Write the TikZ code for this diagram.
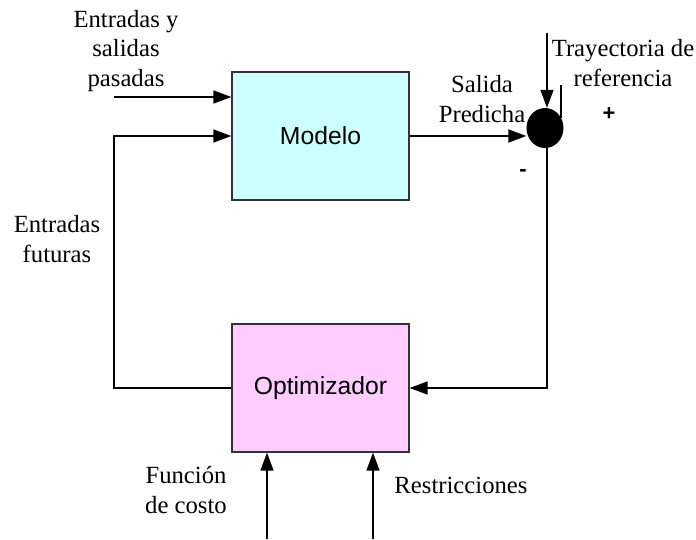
\documentclass[tikz,border=0pt]{standalone}
\usepackage{fontspec}
\setmainfont{Liberation Serif}
\setsansfont{Liberation Sans}
\usetikzlibrary{arrows.meta,shapes.geometric}
\definecolor{modelfill}{HTML}{CCFFFF}
\definecolor{optfill}{HTML}{FFCCFF}
\begin{document}
\begin{tikzpicture}[x=1pt,y=-1pt,
  blk/.style={draw=black!80,line width=1.2pt,minimum width=177pt,minimum height=128pt,inner sep=0pt,font=\sffamily\fontsize{24.7}{29}\selectfont},
  lbl/.style={align=center,font=\fontsize{24.7}{29.5}\selectfont,inner sep=0pt},
  sgn/.style={inner sep=0pt,font=\sffamily\bfseries\fontsize{22}{26}\selectfont},
  conn/.style={line width=1.5pt},
  arr/.style={conn,-{Triangle[length=18pt,width=13pt]}}]
\useasboundingbox (0,0) rectangle (696,539);
\node[blk,fill=modelfill] (modelo) at (320.5,136) {Modelo};
\node[blk,fill=optfill] (opt) at (320.5,388) {Optimizador};
\node[ellipse,fill=black,minimum width=37pt,minimum height=40pt,inner sep=0pt] (sum) at (545,128) {};
% labels
\node[lbl] (lpas) at (126,51) {Entradas y\\salidas\\pasadas};
\node[lbl] (lfut) at (57,239) {Entradas\\futuras};
\node[lbl] (lsal) at (482,99) {Salida\\Predicha};
\node[lbl] (ltray) at (623,63) {Trayectoria de\\referencia};
\node[sgn] (lplus) at (609,114) {+};
\node[sgn] (lminus) at (523,173) {-};
\node[lbl] (lfun) at (186,490) {Función\\de costo};
\node[lbl] (lres) at (461,485) {Restricciones};
% coordinates
\coordinate (inpas) at (114,97);
\coordinate (reftop) at (547,33);
\coordinate (tick1) at (561,85);
\coordinate (tick2) at (561,118);
\coordinate (fbl) at (114,388);
\coordinate (fbtl) at (114,136);
\coordinate (fbr) at (547,388);
\coordinate (b1) at (267,539);
\coordinate (b2) at (373,539);
% connectors
\draw[arr] (inpas) -- (inpas -| modelo.west);
\draw[arr] (opt.west) -- (fbl) -- (fbtl) -- (modelo.west);
\draw[arr] (modelo.east) -- (modelo.east -| sum.west);
\draw[arr] (reftop) -- (reftop |- sum.north);
\draw[conn] (tick1) -- (tick2);
\draw[arr] (sum.south -| fbr) -- (fbr) -- (opt.east);
\draw[arr] (b1) -- (b1 |- opt.south);
\draw[arr] (b2) -- (b2 |- opt.south);
\end{tikzpicture}
\end{document}
